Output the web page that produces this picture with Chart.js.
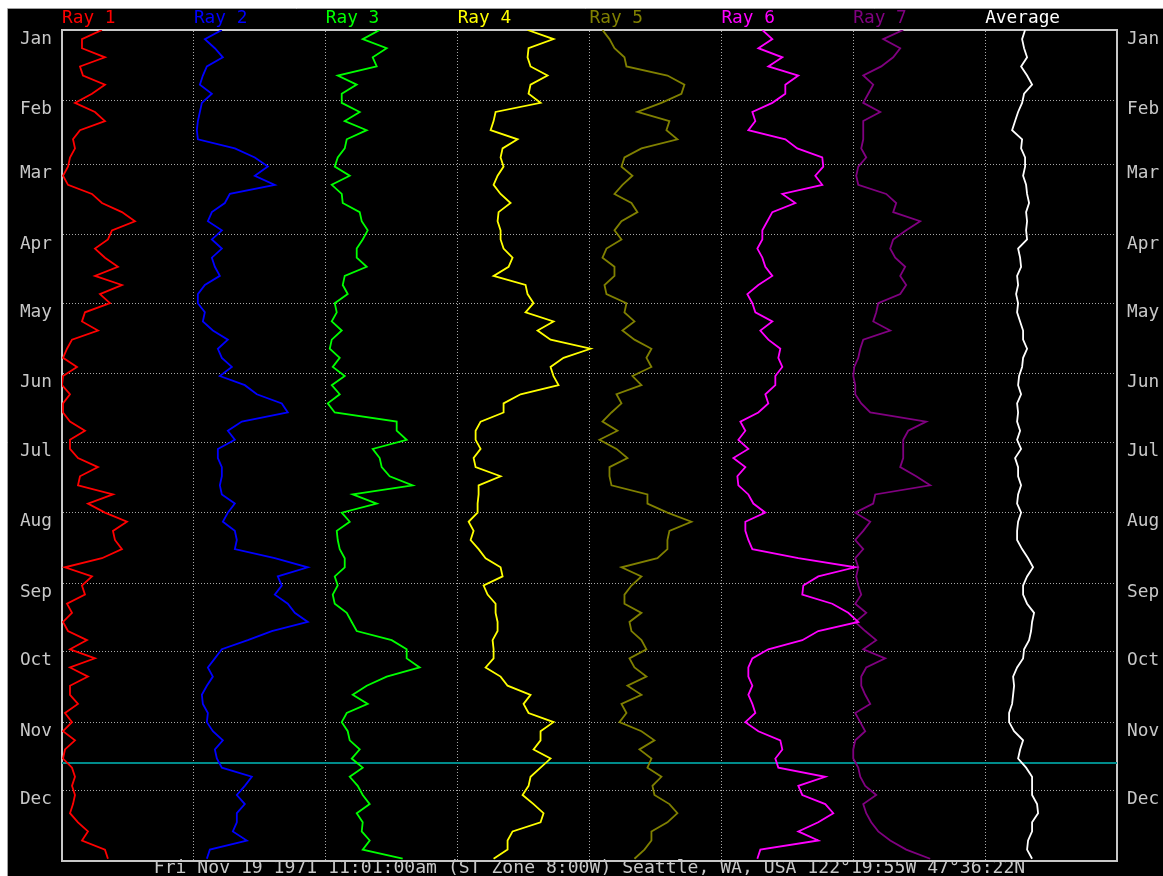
<!DOCTYPE html>
<html>
<head>
<meta charset="utf-8">
<title>Rays by day of year</title>
<script src="https://cdn.jsdelivr.net/npm/chart.js@4/dist/chart.umd.min.js"></script>
<style>
  html, body { margin: 0; padding: 0; background: #fff; }
  canvas { display: block; }
</style>
</head>
<body>
<canvas id="rays-chart" width="1163" height="876"></canvas>
<script>
// Day-of-year axis (Jan at the top, Dec at the bottom)
const MONTH_NAMES = ["Jan", "Feb", "Mar", "Apr", "May", "Jun", "Jul", "Aug", "Sep", "Oct", "Nov", "Dec"];
const MONTH_START_DAYS = [0, 31, 59, 90, 120, 151, 181, 212, 243, 273, 304, 334];
const YEAR_DAYS = 365;
const NOW_DAY = 322; // Nov 19

const SERIES_NAMES = ["Ray 1", "Ray 2", "Ray 3", "Ray 4", "Ray 5", "Ray 6", "Ray 7", "Average"];
const SERIES_COLORS = ["#ff0000", "#0000ff", "#00ff00", "#ffff00", "#808000", "#ff00ff", "#800080", "#ffffff"];
const COLUMN_SPAN = 132; // value units given to each ray's column

const FOOTER = "Fri Nov 19 1971 11:01:00am (ST Zone 8:00W) Seattle, WA, USA 122\u00b019:55W 47\u00b036:22N";

const SAMPLE_DAYS = [0, 4, 8, 12, 16, 20, 24, 28, 32, 36, 40, 44, 48, 52, 56, 60, 64, 68, 72, 76, 80, 84, 88, 92,
    96, 100, 104, 108, 112, 116, 120, 124, 128, 132, 136, 140, 144, 148, 152, 156, 160, 164, 168, 172, 176, 180,
    184, 188, 192, 196, 200, 204, 208, 212, 216, 220, 224, 228, 232, 236, 240, 244, 248, 252, 256, 260, 264, 268,
    272, 276, 280, 284, 288, 292, 296, 300, 304, 308, 312, 316, 320, 324, 328, 332, 336, 340, 344, 348, 352, 356,
    360, 364];

const RAY1 = [40, 20, 20, 43, 18, 21, 43, 30, 13, 33, 43, 18, 11, 13, 8, 6, 1, 6, 30, 40, 60, 73, 50, 46, 33, 43,
    56, 33, 60, 38, 48, 23, 20, 36, 10, 5, 1, 15, 1, 0, 8, 1, 1, 8, 23, 8,
    8, 16, 36, 18, 16, 51, 26, 43, 65, 51, 53, 60, 40, 3, 30, 20, 23, 5, 10, 1, 6, 25, 8, 33, 8, 26, 8, 8, 16, 3,
    10, 1, 13, 3, 1, 10, 13, 10, 13, 11, 8, 16, 26, 20, 43, 46];
const RAY2 = [28, 11, 21, 29, 13, 9, 6, 18, 8, 6, 4, 3, 4, 41, 61, 74, 61, 81, 36, 31, 18, 14, 28, 18, 28, 18, 21,
    26, 11, 4, 4, 11, 9, 19, 34, 24, 28, 38, 26, 51, 63, 88, 94, 48, 34, 41,
    24, 24, 28, 28, 26, 28, 41, 34, 29, 41, 43, 41, 81, 114, 84, 88, 81, 94, 101, 114, 78, 54, 28, 21, 14, 19, 13,
    8, 9, 14, 13, 19, 29, 21, 23, 28, 58, 51, 43, 51, 43, 43, 39, 53, 16, 13];
const RAY3 = [54, 37, 61, 47, 51, 12, 31, 16, 16, 34, 19, 41, 21, 19, 12, 9, 24, 6, 16, 17, 34, 36, 42, 37, 31, 31,
    41, 19, 17, 22, 9, 11, 6, 16, 6, 4, 14, 7, 19, 6, 14, 2, 9, 71, 71, 81,
    47, 54, 56, 64, 87, 27, 51, 16, 24, 11, 12, 14, 19, 19, 9, 12, 7, 9, 21, 26, 31, 66, 81, 81, 94, 61, 41, 27, 42,
    21, 16, 22, 24, 34, 26, 37, 24, 32, 37, 44, 31, 37, 36, 44, 37, 77];
const RAY4 = [70, 96, 71, 70, 73, 90, 73, 71, 83, 38, 36, 33, 60, 45, 43, 46, 40, 36, 43, 53, 41, 40, 43, 43, 46,
    55, 51, 36, 68, 70, 76, 68, 96, 80, 93, 133, 106, 93, 96, 101, 63, 46, 46, 23, 18, 18,
    23, 16, 18, 43, 21, 21, 20, 20, 11, 16, 13, 21, 28, 43, 45, 26, 30, 38, 38, 40, 40, 35, 36, 36, 28, 43, 50, 73,
    66, 71, 96, 83, 83, 76, 93, 83, 73, 71, 65, 76, 86, 83, 55, 50, 50, 36];
const RAY5 = [13, 20, 25, 35, 37, 78, 95, 92, 72, 48, 80, 77, 88, 52, 35, 32, 43, 33, 25, 42, 48, 32, 25, 32, 17,
    13, 25, 25, 15, 17, 37, 35, 45, 33, 45, 62, 57, 62, 43, 52, 27, 32, 22, 13, 28, 10,
    27, 38, 20, 20, 22, 58, 58, 78, 102, 80, 78, 78, 68, 32, 52, 42, 35, 35, 52, 40, 42, 52, 57, 40, 45, 57, 38, 52,
    32, 37, 30, 52, 65, 50, 62, 58, 72, 63, 65, 80, 88, 78, 62, 62, 55, 45];
const RAY6 = [41, 51, 37, 61, 47, 77, 64, 64, 51, 31, 34, 27, 64, 76, 101, 102, 94, 101, 61, 74, 51, 46, 41, 41,
    36, 41, 44, 51, 37, 26, 31, 34, 51, 39, 47, 59, 57, 61, 54, 54, 44, 47, 37, 19, 24, 17,
    27, 12, 24, 16, 17, 27, 32, 44, 24, 24, 27, 31, 77, 134, 97, 82, 81, 111, 127, 137, 97, 81, 47, 31, 27, 27, 31,
    27, 31, 34, 24, 37, 59, 61, 54, 57, 104, 77, 81, 104, 112, 97, 77, 97, 39, 36];
const RAY7 = [50, 30, 47, 40, 28, 10, 20, 15, 10, 27, 10, 10, 10, 8, 13, 5, 3, 5, 33, 43, 40, 67, 53, 40, 37, 42,
    52, 47, 53, 47, 25, 23, 20, 37, 10, 7, 5, 1, 0, 2, 2, 8, 17, 73, 55, 50,
    50, 50, 47, 63, 77, 22, 20, 2, 17, 10, 2, 10, 2, 5, 3, 5, 8, 2, 13, 2, 12, 23, 10, 32, 13, 8, 8, 12, 17, 2, 7,
    12, 2, 0, 0, 5, 7, 12, 23, 10, 13, 18, 25, 37, 53, 77];
const AVERAGE = [40, 37, 39, 42, 36, 42, 47, 39, 37, 33, 30, 27, 37, 36, 40, 40, 38, 41, 42, 44, 41, 42, 41, 42,
    33, 35, 36, 32, 33, 31, 33, 32, 35, 38, 38, 42, 38, 37, 34, 33, 36, 32, 33, 32, 35, 32,
    36, 30, 33, 33, 36, 33, 32, 36, 33, 32, 32, 37, 43, 48, 42, 38, 38, 42, 49, 47, 46, 44, 39, 38, 32, 28, 29, 28,
    27, 24, 24, 29, 38, 35, 33, 41, 47, 47, 47, 52, 53, 47, 47, 43, 42, 47];

const SERIES_VALUES = [RAY1, RAY2, RAY3, RAY4, RAY5, RAY6, RAY7, AVERAGE];

const TEXT_FONT = { family: "'DejaVu Sans Mono', monospace", size: 17.8 };
const LABEL_GREY = "#c8c8c8";
const GRID_GREY = "#a8a8a8";

// white window margin with a thin rule, black plotting surface
const backdrop = {
    id: "backdrop",
    beforeDraw(chart) {
        const { ctx, width, height } = chart;
        ctx.save();
        ctx.fillStyle = "#ffffff";
        ctx.fillRect(0, 0, width, height);
        ctx.fillStyle = "#000000";
        ctx.fillRect(8, 9, width - 8, height - 9);
        ctx.strokeStyle = "#a0a0a0";
        ctx.lineWidth = 1;
        ctx.beginPath();
        ctx.moveTo(7.5, height);
        ctx.lineTo(7.5, 8.5);
        ctx.lineTo(width, 8.5);
        ctx.stroke();
        ctx.restore();
    },
};

function monthTicks(scale) {
    scale.ticks = MONTH_START_DAYS.map(v => ({ value: v }));
}

function dayAxis(position, width, onArea) {
    return {
        type: "linear",
        position: position,
        reverse: true,
        min: 0,
        max: YEAR_DAYS,
        afterBuildTicks: monthTicks,
        afterFit: s => {
            s.width = width;
            s.paddingTop = 0;
            s.paddingBottom = 0;
        },
        ticks: {
            callback: (v, i) => MONTH_NAMES[i],
            color: LABEL_GREY,
            font: TEXT_FONT,
            padding: 10,
            labelOffset: 9,
        },
        grid: { display: true, drawOnChartArea: onArea, drawTicks: false, color: GRID_GREY, lineWidth: 1 },
        border: { display: true, color: LABEL_GREY, width: 2, dash: [1, 2] },
    };
}

const datasets = SERIES_VALUES.map((vals, i) => ({
    label: SERIES_NAMES[i],
    data: SAMPLE_DAYS.map((d, k) => ({ x: i * COLUMN_SPAN + vals[k], y: d })),
    borderColor: SERIES_COLORS[i],
    borderWidth: 1.8,
    pointRadius: 0,
    tension: 0,
    xAxisID: "x",
    yAxisID: "y",
}));

datasets.push({
    label: "now",
    data: [{ x: 0, y: NOW_DAY }, { x: SERIES_NAMES.length * COLUMN_SPAN, y: NOW_DAY }],
    borderColor: "#008b8b",
    borderWidth: 2,
    pointRadius: 0,
    xAxisID: "x",
    yAxisID: "y",
    order: 1,
});

new Chart(document.getElementById("rays-chart"), {
    type: "line",
    data: { datasets: datasets },
    plugins: [backdrop],
    options: {
        responsive: false,
        devicePixelRatio: 1,
        animation: false,
        layout: { padding: 0 },
        plugins: { legend: { display: false }, tooltip: { enabled: false } },
        scales: {
            x: {
                type: "linear",
                position: "top",
                min: 0,
                max: SERIES_NAMES.length * COLUMN_SPAN,
                afterBuildTicks: s => {
                    s.ticks = SERIES_NAMES.concat([""]).map((_, i) => ({ value: i * COLUMN_SPAN }));
                },
                afterFit: s => {
                    s.height = 30;
                    s.paddingLeft = 0;
                    s.paddingRight = 0;
                },
                ticks: {
                    autoSkip: false,
                    maxRotation: 0,
                    align: "start",
                    padding: 1,
                    font: TEXT_FONT,
                    callback: (v, i) => SERIES_NAMES[i] || "",
                    color: ctx => SERIES_COLORS[ctx.index] || LABEL_GREY,
                },
                grid: { drawTicks: false, color: GRID_GREY, lineWidth: 1 },
                border: { display: true, color: LABEL_GREY, width: 2, dash: [1, 2] },
            },
            x2: {
                type: "linear",
                position: "bottom",
                min: 0,
                max: SERIES_NAMES.length * COLUMN_SPAN,
                afterFit: s => {
                    s.height = 15;
                    s.paddingLeft = 0;
                    s.paddingRight = 0;
                },
                ticks: { display: false },
                grid: { display: false },
                border: { display: true, color: LABEL_GREY, width: 2 },
                title: {
                    display: true,
                    text: FOOTER,
                    color: LABEL_GREY,
                    font: Object.assign({}, TEXT_FONT, { size: 18.1, lineHeight: "15px" }),
                    padding: 0,
                },
            },
            y: dayAxis("left", 62, true),
            y2: dayAxis("right", 46, false),
        },
    },
});
</script>
</body>
</html>
